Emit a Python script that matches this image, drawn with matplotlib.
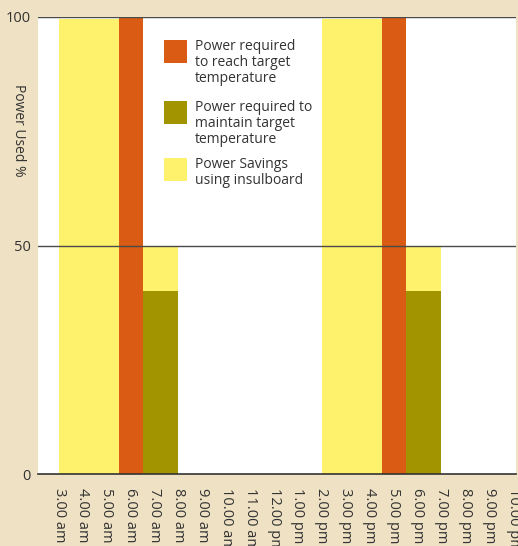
import numpy as np
import matplotlib
matplotlib.use("Agg")
import matplotlib.pyplot as plt
import matplotlib.patches as patches

######################################################################
# Datos
######################################################################

slot_labels = ["3.00 am", "4.00 am", "5.00 am", "6.00 am", "7.00 am", "8.00 am",
               "9.00 am", "10.00 am", "11.00 am", "12.00 pm", "1.00 pm", "2.00 pm",
               "3.00 pm", "4.00 pm", "5.00 pm", "6.00 pm", "7.00 pm", "8.00 pm",
               "9.00 pm", "10.00 pm"]

# savings blocks (before heating starts)
savings_start = [0.0, 11.0]
savings_end = [2.5, 13.5]
savings_value = [99.5, 99.5]

# heat up to target
reach_start = [2.5, 13.5]
reach_end = [3.5, 14.5]
reach_value = [100, 100]

# keep target temperature
maintain_start = [3.5, 14.5]
maintain_end = [5.0, 16.0]
maintain_value = [40, 40]
maintain_savings_top = [50, 50]

legend_labels = ["Power required\nto reach target\ntemperature",
                 "Power required to\nmaintain target\ntemperature",
                 "Power Savings\nusing insulboard"]

c_bg = "#EFE1C3"
c_yellow = "#FEF16B"
c_orange = "#D95B14"
c_olive = "#A29300"
c_text = "#333333"

plt.rcParams['font.family'] = ['Open Sans', 'DejaVu Sans']

W, H = 518, 546
fig = plt.figure(figsize=(W / 100, H / 100), dpi=100, facecolor=c_bg)

def px(x, y):
    # pixel -> figure fraction
    return x / W, 1 - y / H

ax_l, ax_r, ax_t, ax_b = 38, 516, 17, 474
ax = fig.add_axes([ax_l / W, 1 - ax_b / H, (ax_r - ax_l) / W, (ax_b - ax_t) / H])
ax.set_facecolor("white")

######################################################################
# Barras
######################################################################

s0 = np.array(savings_start)
ax.bar(s0, savings_value, width=np.array(savings_end) - s0, align='edge',
       color=c_yellow, linewidth=0, zorder=1)

r0 = np.array(reach_start)
ax.bar(r0, reach_value, width=np.array(reach_end) - r0, align='edge',
       color=c_orange, linewidth=0, zorder=1)

m0 = np.array(maintain_start)
mw = np.array(maintain_end) - m0
ax.bar(m0, maintain_savings_top, width=mw, align='edge',
       color=c_yellow, linewidth=0, zorder=1)
ax.bar(m0, maintain_value, width=mw, align='edge',
       color=c_olive, linewidth=0, zorder=2)

# lineas horizontales
for yv in [50, 100]:
    ax.axhline(yv, color="#4a4a4a", linewidth=1.0, zorder=3)

step = 23.9
ax.set_xlim((ax_l - 59) / step, (ax_r - 59) / step)
ax.set_ylim(0, 100)

ax.set_xticks(np.arange(len(slot_labels)))
ax.set_xticklabels(slot_labels, rotation=270, ha='center', va='top',
                   fontsize=10.5, color=c_text)
ax.set_yticks([0, 50, 100])
ax.set_yticklabels(["0", "50", "100"], fontsize=10.5, color=c_text)
ax.tick_params(axis='x', length=0, pad=10)
ax.tick_params(axis='y', length=0, pad=5)

for s in ["left", "right", "top"]:
    ax.spines[s].set_visible(False)
ax.spines["bottom"].set_color("#333333")
ax.spines["bottom"].set_linewidth(1.2)
ax.spines["bottom"].set_zorder(4)

fig.text(*px(18, 130), "Power Used %", rotation=270, ha='center', va='center',
         fontsize=10, color=c_text)

######################################################################
# Leyenda
######################################################################

leg_colors = [c_orange, c_olive, c_yellow]
leg_tops = [40, 101, 158]
for col, top, lab in zip(leg_colors, leg_tops, legend_labels):
    x0, y0 = px(164, top + 23)
    fig.patches.append(patches.Rectangle((x0, y0), 23 / W, 23 / H,
                                         transform=fig.transFigure,
                                         facecolor=col, edgecolor='none',
                                         zorder=5))
    fig.text(*px(195, top - 1), lab, ha='left', va='top', fontsize=10,
             color=c_text, linespacing=1.08, zorder=5)

fig.savefig("out.png", dpi=100, facecolor=c_bg)
